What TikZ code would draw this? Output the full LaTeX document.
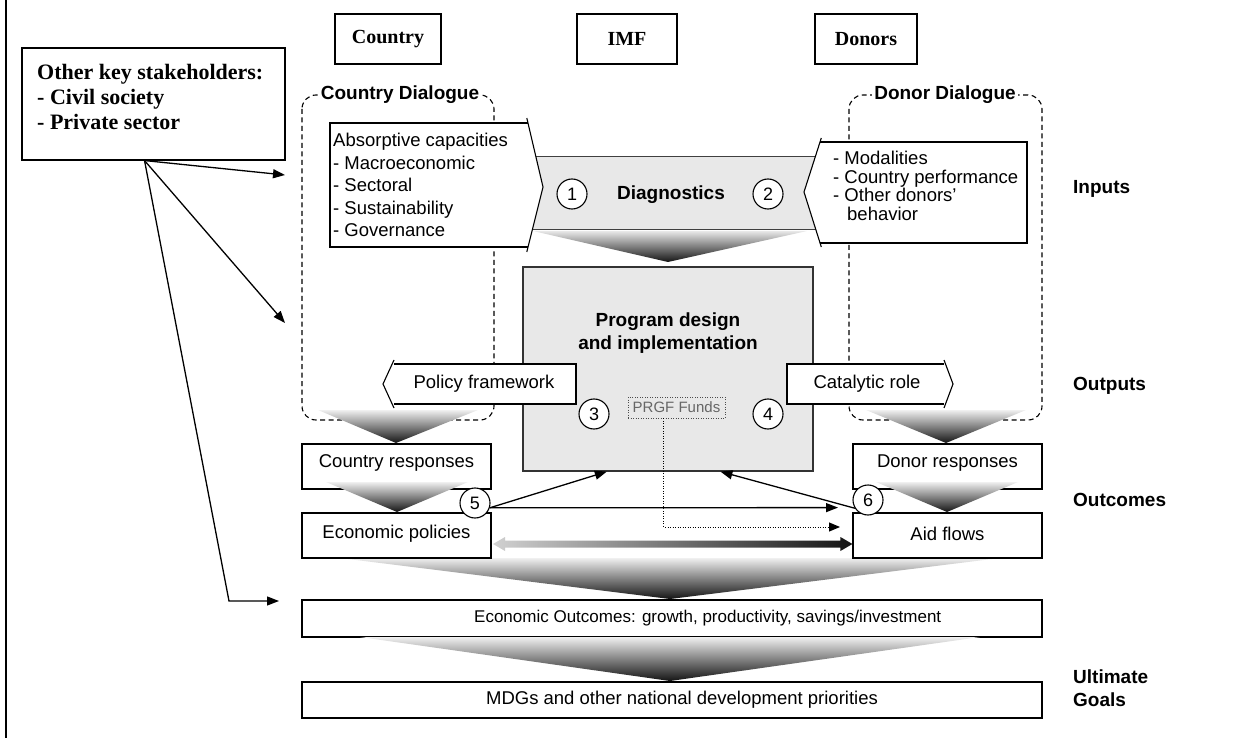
\documentclass[tikz,border=0pt]{standalone}
\usepackage{fontspec}
\setmainfont{Liberation Sans}
\newfontfamily\tnrfont{Liberation Serif}
\usetikzlibrary{arrows.meta,calc}
\begin{document}
\begin{tikzpicture}[x=1pt,y=-1pt,
  lw/.style={line width=1.1pt},
  pbox/.style={draw=black,line width=1.1pt,fill=white,inner sep=0pt},
  reg/.style={font=\fontsize{18.5}{22.5}\selectfont,inner sep=0pt},
  bld/.style={font=\bfseries\fontsize{19}{23}\selectfont,inner sep=0pt},
  tnr/.style={font=\tnrfont\bfseries\fontsize{20}{25}\selectfont,inner sep=0pt},
  num/.style={circle,draw=black,line width=1.1pt,fill=white,minimum size=30pt,inner sep=0pt,font=\fontsize{18}{18}\selectfont},
  dlg/.style={draw=black,line width=1.1pt,dash pattern=on 5pt off 3.5pt,rounded corners=14pt},
  funnel/.style={top color=black!6,middle color=black!45,bottom color=black!92},
  arr/.style={-{Triangle[length=12pt,width=9pt]},line width=1.3pt},
]
\useasboundingbox (0,0) rectangle (1251,738);
\draw[line width=2.5pt] (6,0) -- (6,738);

% top boxes
\node[pbox,tnr,minimum width=106pt,minimum height=50pt] (country) at (388,39) {Country};
\node[pbox,tnr,minimum width=100pt,minimum height=50pt] (imf) at (627,39) {IMF};
\node[pbox,tnr,minimum width=102pt,minimum height=50pt] (donors) at (866,39) {Donors};

% stakeholders
\node[pbox,minimum width=263pt,minimum height=112pt] (skbox) at (153.5,104) {};
\node[tnr,font=\tnrfont\bfseries\fontsize{22}{25}\selectfont,align=left,anchor=west] (sktext) at (37,97) {Other key stakeholders:\\- Civil society\\- Private sector};

% dialogue boxes
\draw[dlg] (302,95) rectangle (494,420);
\node[bld,fill=white,inner xsep=2pt,inner ysep=2pt] (cdl) at (400,95) {Country Dialogue};
\draw[dlg] (849,95) rectangle (1042,420);
\node[bld,fill=white,inner xsep=2pt,inner ysep=2pt] (ddl) at (945,95) {Donor Dialogue};

% diagnostics band
\filldraw[fill=black!9,draw=black!75,line width=1pt] (530,157) rectangle (815,230);
\shade[top color=black!9,middle color=black!45,bottom color=black!92] (533,231) -- (807,231) -- (668,262) -- cycle;

% absorptive capacities
\fill[white] (330,123) -- (528,123) -- (543,187) -- (528,247) -- (330,247) -- cycle;
\draw[lw] (528,123) -- (330,123) -- (330,247) -- (528,247);
\draw[lw] (526.8,118) -- (543,187) -- (526.8,252);
\node[reg,align=left,anchor=west] (abs) at (333,185) {Absorptive capacities\\- Macroeconomic\\- Sectoral\\- Sustainability\\- Governance};

% donor factors
\fill[white] (820,142) -- (1027,142) -- (1027,243) -- (820,243) -- (804,192) -- cycle;
\draw[lw] (820,142) -- (1027,142) -- (1027,243) -- (820,243);
\draw[lw] (821.3,138) -- (804,192) -- (821.3,247);
\node[reg,align=left,anchor=west,font=\fontsize{18.5}{18.5}\selectfont] (don) at (833,186) {- Modalities\\- Country performance\\- Other donors’\\\hspace*{14pt}behavior};

\node[num] (c1) at (572,194) {1};
\node[num] (c2) at (768,194) {2};
\node[bld] (diag) at (671,195) {Diagnostics};

% program design
\node[draw=black!80,fill=black!9,line width=1.2pt,minimum width=290pt,minimum height=204pt,inner sep=0pt] (prog) at (668,369) {};
\node[bld,align=center] (progt) at (668,333.5) {Program design\\and implementation};
\node[draw=black!70,dash pattern=on 1pt off 1.5pt,line width=0.9pt,minimum width=97pt,minimum height=21pt,inner sep=0pt,font=\fontsize{15}{15}\selectfont,text=black!60] (prgf) at (676.5,407.5) {PRGF Funds};

% policy framework
\fill[white] (392.6,364) -- (576,364) -- (576,404) -- (392.6,404) -- (383,384) -- cycle;
\draw[lw] (394,364) -- (576,364) -- (576,404) -- (394,404);
\draw[lw] (394,360) -- (383,384) -- (394,408);
\node[reg] (pol) at (484,384) {Policy framework};

% catalytic role
\fill[white] (787,364) -- (945.5,364) -- (953,384) -- (945.5,404) -- (787,404) -- cycle;
\draw[lw] (944,364) -- (787,364) -- (787,404) -- (944,404);
\draw[lw] (944,360) -- (953,384) -- (944,408);
\node[reg] (cat) at (867,384) {Catalytic role};

\node[num] (c3) at (594,414) {3};
\node[num] (c4) at (768,414) {4};

% funnels below dialogues
\shade[funnel] (318,410) -- (478,410) -- (396,443) -- cycle;
\shade[funnel] (866,410) -- (1026,410) -- (946,443) -- cycle;

% big funnel to outcomes
\shade[funnel] (340,558) -- (1000,558) -- (670,599) -- cycle;

% responses
\node[pbox,minimum width=189pt,minimum height=45pt] (cresp) at (396.5,466.5) {};
\node[reg] (cresptxt) at (396.5,463) {Country responses};
\node[pbox,minimum width=189pt,minimum height=45pt] (epol) at (396.5,535.5) {};
\node[reg] (epoltxt) at (396.5,534) {Economic policies};
\node[pbox,minimum width=189pt,minimum height=45pt] (dresp) at (947.5,466.5) {};
\node[reg] (dresptxt) at (947.5,463) {Donor responses};
\node[pbox,minimum width=189pt,minimum height=45pt] (aid) at (947.5,535.5) {};
\node[reg] (aidtxt) at (947.5,534) {Aid flows};

\shade[funnel] (326,482) -- (468,482) -- (397,512) -- cycle;
\shade[funnel] (876,482) -- (1018,482) -- (947,512) -- cycle;

% outcomes and goals
\node[pbox,minimum width=740pt,minimum height=37pt] (eout) at (672,618.5) {};
\node[reg,anchor=west,font=\fontsize{17}{20}\selectfont] (eouttxt) at (474,618.5) {Economic Outcomes: growth, productivity, savings/investment};
\shade[funnel] (360,637) -- (980,637) -- (670,681) -- cycle;
\node[pbox,minimum width=740pt,minimum height=36pt] (mdg) at (672,700) {};
\node[reg] (mdgtxt) at (682,700) {MDGs and other national development priorities};

\node[num] (c5) at (475,503) {5};
\node[num] (c6) at (868,500) {6};

% stakeholder arrows
\coordinate (sk) at ($(skbox.south west)!0.466!(skbox.south east)$);
\coordinate (t1) at (285,175);
\coordinate (t2) at (285,323);
\coordinate (bend) at (229,601);
\coordinate (t3) at (279,601);
\draw[arr] (sk) -- (t1);
\draw[arr] (sk) -- (t2);
\draw[arr] (sk) -- (bend) -- (t3);

% outcome arrows
\coordinate (p5) at ($(prog.south west)!0.29!(prog.south east)$);
\coordinate (p6) at ($(prog.south west)!0.68!(prog.south east)$);
\coordinate (hend) at (838,507.6);
\draw[arr] (c5.-18) -- (p5);
\draw[arr] (c5.-18) -- (hend);
\draw[arr] (c6.212) -- (p6);
\coordinate (prgfb) at ($(prgf.south west)!0.37!(prgf.south east)$);
\coordinate (dend) at (840,527);
\draw[-{Triangle[length=11pt,width=9pt]},line width=1pt,dash pattern=on 1pt off 1.5pt] (prgfb) |- (dend);
\coordinate (ga) at (493,544);
\coordinate (gb) at (aid.west |- ga);
\shade[left color=black!18,right color=black!92] (ga) -- ++(12,-7) -- ++(0,3.5) -- ($(gb)+(-12,-3.5)$) -- ++(0,-3.5) -- (gb) -- ++(-12,7) -- ++(0,-3.5) -- ($(ga)+(12,3.5)$) -- ++(0,3.5) -- cycle;

% level labels
\node[bld,anchor=west] (lin) at (1073,189) {Inputs};
\node[bld,anchor=west] (lout) at (1073,386) {Outputs};
\node[bld,anchor=west] (loc) at (1073,500) {Outcomes};
\node[bld,anchor=west,align=left] (lug) at (1073,688) {Ultimate\\Goals};
\end{tikzpicture}
\end{document}
